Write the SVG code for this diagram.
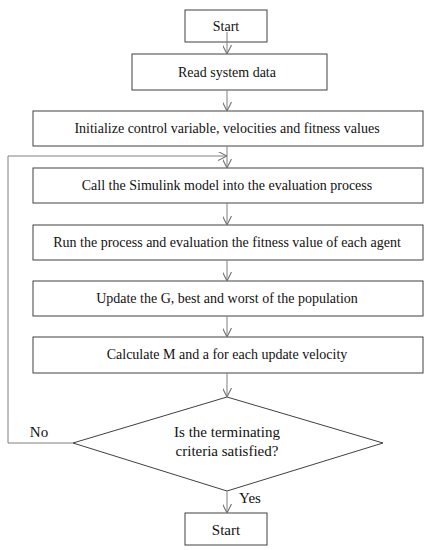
<svg xmlns="http://www.w3.org/2000/svg" width="432" height="550" viewBox="0 0 432 550">
<defs>
<marker id="arr" viewBox="0 0 10 10" refX="10" refY="5" markerWidth="9" markerHeight="9" markerUnits="userSpaceOnUse" orient="auto">
<path d="M0,0 L10,5 L0,10" fill="none" stroke="#707070" stroke-width="1.2"/>
</marker>
<style>
.box{fill:#fff;stroke:#404040;stroke-width:1}
.t{font-family:"Liberation Serif","Times New Roman",serif;font-size:14px;fill:#111;text-anchor:middle}
.d{font-family:"Liberation Serif","Times New Roman",serif;font-size:15px;fill:#111;text-anchor:middle}
.c{fill:none;stroke:#808080;stroke-width:1}
</style>
</defs>
<rect width="432" height="550" fill="#fff"/>
<g id="start"><rect class="box" x="185" y="10" width="82" height="32"/><text class="t" x="226" y="31">Start</text></g>
<g id="read"><rect class="box" x="132" y="54" width="195" height="36"/><text class="t" x="227" y="77">Read system data</text></g>
<g id="init"><rect class="box" x="33" y="111" width="390" height="35"/><text class="t" x="227" y="133">Initialize control variable, velocities and fitness values</text></g>
<g id="call"><rect class="box" x="33" y="168" width="390" height="35"/><text class="t" x="227" y="190">Call the Simulink model into the evaluation process</text></g>
<g id="run"><rect class="box" x="33" y="225" width="390" height="35"/><text class="t" x="227" y="247">Run the process and evaluation the fitness value of each agent</text></g>
<g id="update"><rect class="box" x="33" y="281" width="390" height="35"/><text class="t" x="227" y="303">Update the G, best and worst of the population</text></g>
<g id="calc"><rect class="box" x="33" y="337" width="390" height="36"/><text class="t" x="227" y="359">Calculate M and a for each update velocity</text></g>
<g id="decision"><polygon class="box" points="227,397 383,443 227,491 73,443"/><text class="d" x="227" y="437">Is the terminating</text><text class="d" x="227" y="456">criteria satisfied?</text></g>
<g id="end"><rect class="box" x="185" y="513" width="82" height="32"/><text class="d" x="226" y="535">Start</text></g>
<g id="connectors">
<line class="c" x1="227" y1="32" x2="227" y2="54" marker-end="url(#arr)"/>
<line class="c" x1="227" y1="90" x2="227" y2="111" marker-end="url(#arr)"/>
<line class="c" x1="227" y1="146" x2="227" y2="168" marker-end="url(#arr)"/>
<line class="c" x1="227" y1="203" x2="227" y2="225" marker-end="url(#arr)"/>
<line class="c" x1="227" y1="260" x2="227" y2="281" marker-end="url(#arr)"/>
<line class="c" x1="227" y1="316" x2="227" y2="337" marker-end="url(#arr)"/>
<line class="c" x1="227" y1="373" x2="227" y2="397" marker-end="url(#arr)"/>
<line class="c" x1="227" y1="491" x2="227" y2="513" marker-end="url(#arr)"/>
<polyline class="c" points="73,443 8,443 8,156 227,156" marker-end="url(#arr)"/>
<text class="d" x="39" y="437">No</text>
<text class="d" x="250" y="503">Yes</text>
</g>
</svg>
